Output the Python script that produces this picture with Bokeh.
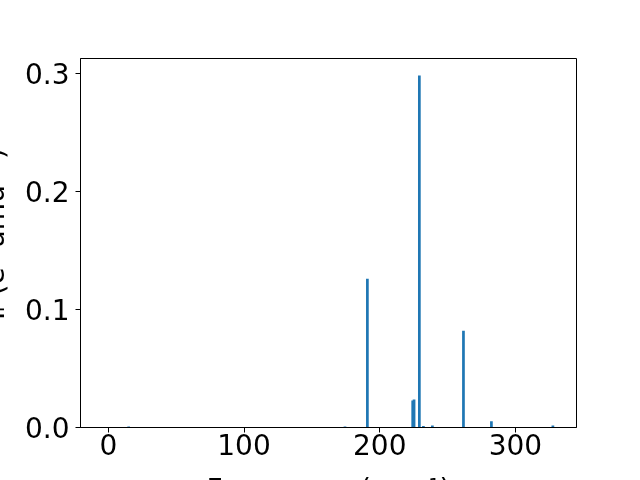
from bokeh.plotting import figure
from bokeh.models import Range1d, FixedTicker, PrintfTickFormatter
from bokeh.embed import file_html
from bokeh.resources import INLINE

# Data (frequency in cm^-1, IR intensity)
freqs = [-3.0, 15.0, 174.4, 190.9, 224.3, 225.3, 229.2, 232.2, 238.8, 261.7, 282.3, 327.6]
intens = [0.0005, 0.0008, 0.0008, 0.126, 0.0229, 0.0237, 0.298, 0.0012, 0.0016, 0.082, 0.0052, 0.0016]
x_ticks = [0, 100, 200, 300]
y_ticks = [0.0, 0.1, 0.2, 0.3]
x_label = "Frequency (cm\u207b\u00b9)"
y_label = "\u00a0\u00a0I\u1d63 (e\u00b2 amu\u207b\u00b9)"

FONT = "DejaVu Sans"
FS = "28px"
SHIFT = 30  # canvas is shifted left so the y label is cut at the window edge

p = figure(width=640 + SHIFT, height=522, output_backend="svg", toolbar_location=None,
           x_range=Range1d(-20.5, 345.0), y_range=Range1d(0.0, 0.3125),
           min_border_left=80 + SHIFT, min_border_right=64, min_border_top=58,
           min_border_bottom=95)
p.styles = {"position": "fixed", "left": f"-{SHIFT}px", "top": "0px"}
p.background_fill_color = "white"
p.border_fill_color = "white"
p.outline_line_color = "black"
p.outline_line_alpha = 1.0
p.outline_line_width = 1
p.xgrid.visible = False
p.ygrid.visible = False

p.vbar(x=freqs, top=intens, width=2.0, fill_color="#1f77b4", line_color=None)

for ax in (p.xaxis[0], p.yaxis[0]):
    ax.major_label_text_font = FONT
    ax.major_label_text_font_size = FS
    ax.major_label_text_color = "black"
    ax.axis_label_text_font = FONT
    ax.axis_label_text_font_size = FS
    ax.axis_label_text_font_style = "normal"
    ax.axis_label_text_color = "black"
    ax.major_tick_in = 0
    ax.major_tick_out = 5
    ax.major_tick_line_color = "black"
    ax.minor_tick_line_color = None
    ax.axis_line_color = "black"

p.xaxis[0].ticker = FixedTicker(ticks=x_ticks)
p.yaxis[0].ticker = FixedTicker(ticks=y_ticks)
p.yaxis[0].formatter = PrintfTickFormatter(format="%.1f")
p.xaxis[0].major_label_standoff = 1
p.yaxis[0].major_label_standoff = 6
p.xaxis[0].axis_label = x_label
p.yaxis[0].axis_label = y_label
p.xaxis[0].axis_label_standoff = 15
p.yaxis[0].axis_label_standoff = 11

open("out.html", "w").write(file_html(p, INLINE))
